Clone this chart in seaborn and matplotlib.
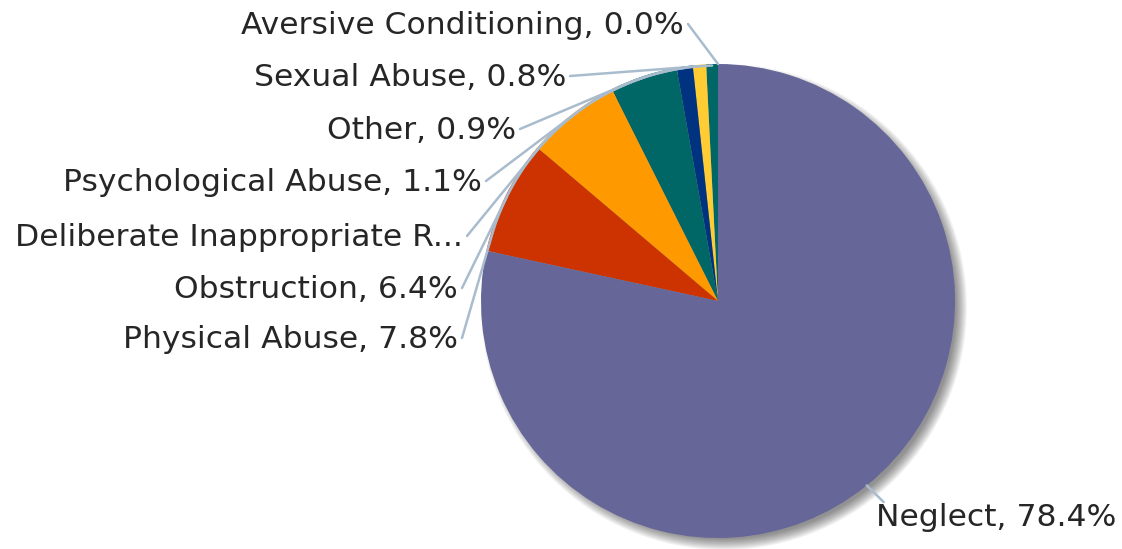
import numpy as np
import matplotlib
matplotlib.use("Agg")
import matplotlib.pyplot as plt
from matplotlib.patches import Circle
import seaborn as sns

# slice data, counter-clockwise from 12 o'clock
categories = ["Aversive Conditioning", "Sexual Abuse", "Other", "Psychological Abuse",
              "Deliberate Inappropriate R...", "Obstruction", "Physical Abuse", "Neglect"]
percent = [0.0, 0.8, 0.9, 1.1, 4.6, 6.4, 7.8, 78.4]
colors = ["#d8d8d8", "#006666", "#ffcc33", "#00337f", "#006666", "#ff9900", "#cc3300", "#666699"]

# label layout in pixels (x = right end, y = baseline from top)
label_x = [684, 566, 516, 482, 463, 458, 458, 1116]
label_y = [34, 86, 139, 191, 246, 298, 348, 526]

W, H = 1122, 549
cx, cy, r = 718, H - 301, 237

sns.set_theme(style="white")
plt.rcParams["font.family"] = ["DejaVu Sans"]

fig = plt.figure(figsize=(W / 100, H / 100), dpi=100)
ax = fig.add_axes([0, 0, 1, 1])

# soft grey shadow
for k in range(12):
    ax.add_patch(Circle((cx + 6, cy - 6), r + 6 - k, color="black", alpha=0.045, lw=0, zorder=0))

wedges, _ = ax.pie(percent, colors=colors, startangle=90, counterclock=True,
                   center=(cx, cy), radius=r, frame=True,
                   wedgeprops=dict(linewidth=0, zorder=1))
ax.set_xlim(0, W)
ax.set_ylim(0, H)
ax.set_aspect("equal")
ax.axis("off")

renderer = fig.canvas.get_renderer()
line_col = "#a9bccd"
for w, name, pct, lx, ly in zip(wedges, categories, percent, label_x, label_y):
    txt = name if name.endswith("...") else f"{name}, {pct:.1f}%"
    t = ax.text(lx, H - ly, txt, ha="right", va="baseline", fontsize=22.6,
                color="#262626", zorder=5)
    bb = t.get_window_extent(renderer)

    # leader line: straight to the rim if visible, otherwise hug the rim
    theta = np.deg2rad((w.theta1 + w.theta2) / 2)
    if lx < cx:
        px, py = bb.x1 + 4, H - ly + 10
    else:
        px, py = bb.x0 + 8, H - ly + 24
    dx, dy = px - cx, py - cy
    d = np.hypot(dx, dy)
    alpha = np.arctan2(dy, dx)
    half = np.arccos(min(r / d, 1.0))
    diff = (theta - alpha + np.pi) % (2 * np.pi) - np.pi
    if abs(diff) <= half:
        xs = [px, cx + r * np.cos(theta)]
        ys = [py, cy + r * np.sin(theta)]
    else:
        t0 = alpha + np.sign(diff) * half
        arc = np.linspace(t0, alpha + diff, 40)
        xs = np.r_[px, cx + (r - 1.5) * np.cos(arc)]
        ys = np.r_[py, cy + (r - 1.5) * np.sin(arc)]
    ax.plot(xs, ys, color=line_col, lw=1.8, zorder=4, solid_capstyle="round")

fig.savefig("out.png", dpi=100, facecolor="white")
